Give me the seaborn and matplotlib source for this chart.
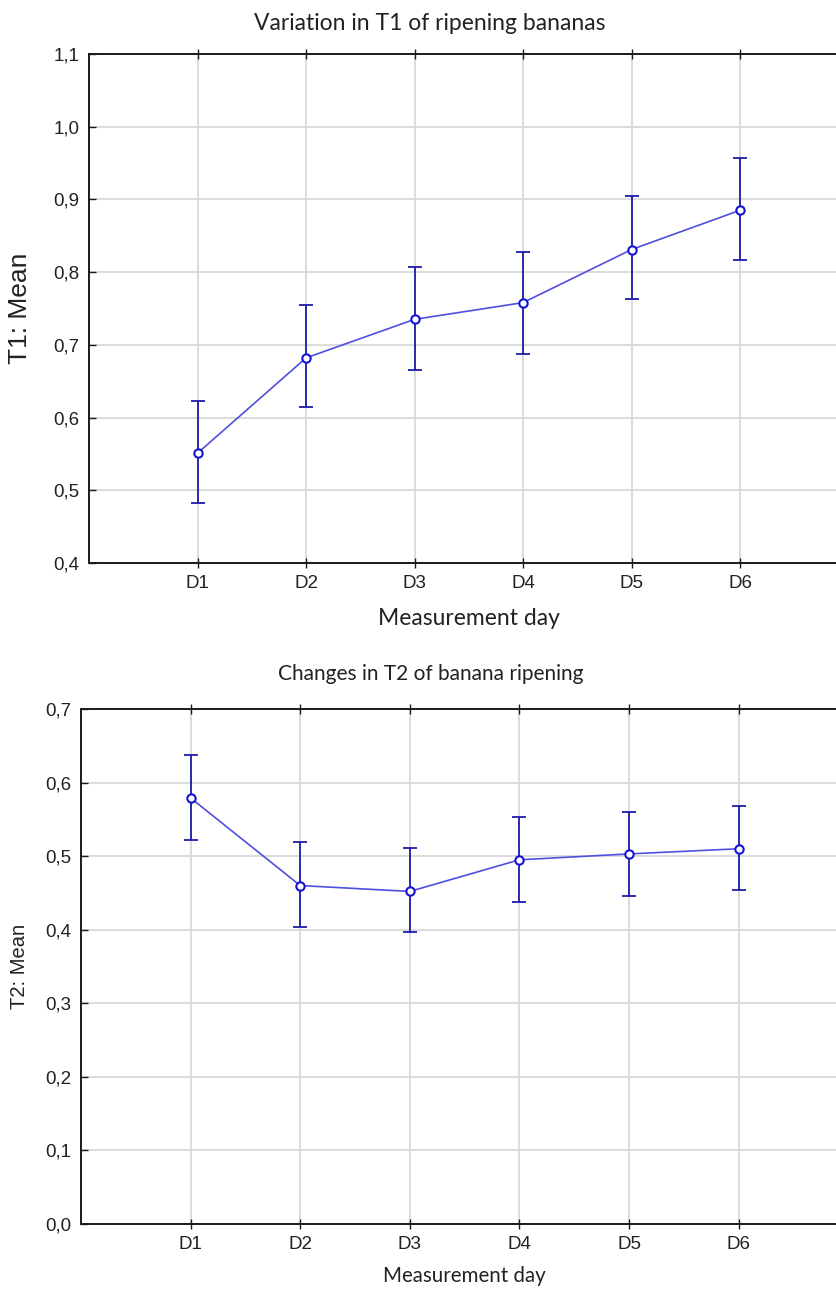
import matplotlib
matplotlib.use("Agg")
import matplotlib.pyplot as plt
import seaborn as sns
import numpy as np
from matplotlib.ticker import FuncFormatter, MultipleLocator

days = ["D1", "D2", "D3", "D4", "D5", "D6"]

t1_mean = [0.551, 0.682, 0.735, 0.758, 0.831, 0.885]
t1_low = [0.483, 0.614, 0.666, 0.687, 0.763, 0.817]
t1_high = [0.623, 0.755, 0.807, 0.828, 0.904, 0.957]

t2_mean = [0.579, 0.460, 0.452, 0.495, 0.503, 0.510]
t2_low = [0.522, 0.404, 0.397, 0.438, 0.446, 0.454]
t2_high = [0.637, 0.519, 0.511, 0.553, 0.560, 0.568]

sns.set_theme(style="white")
plt.rcParams["font.family"] = ["Liberation Sans", "DejaVu Sans"]

LINE_C = "#4f4fe0"
ERR_C = "#1c1caa"
MARK_C = "#1414d2"
GRID_C = "#d9d9d9"
TXT_C = "#222222"

fig = plt.figure(figsize=(8.36, 12.9), dpi=100)
ax1 = fig.add_axes([0.1065, 0.5636, 0.9085, 0.3946])
ax2 = fig.add_axes([0.0969, 0.0512, 0.9177, 0.3992])

comma = FuncFormatter(lambda v, p: f"{v:.1f}".replace(".", ","))


def draw(ax, mean, low, high, ylim, title, ylabel, title_size, title_x,
         title_pad, ylab_size, ylab_x, xlab_size, xlab_y):
    err = [np.array(mean) - np.array(low), np.array(high) - np.array(mean)]
    ax.errorbar(days, mean, yerr=err, fmt="none", ecolor=ERR_C,
                elinewidth=1.3, capsize=5, capthick=1.3, zorder=3)
    sns.lineplot(x=days, y=mean, ax=ax, color=LINE_C, linewidth=1.2,
                 marker="o", markersize=6, markerfacecolor="white",
                 markeredgecolor=MARK_C, markeredgewidth=1.5, zorder=4,
                 sort=False)
    ax.set_xlim(-1, 6)
    ax.set_ylim(*ylim)
    ax.yaxis.set_major_locator(MultipleLocator(0.1))
    ax.yaxis.set_major_formatter(comma)
    ax.grid(True, color=GRID_C, linewidth=1.3)
    ax.set_axisbelow(True)
    for s in ["left", "bottom", "top"]:
        ax.spines[s].set_visible(True)
        ax.spines[s].set_color("#1a1a1a")
        ax.spines[s].set_linewidth(1.4)
    ax.spines["right"].set_visible(False)
    ax.tick_params(axis="x", which="major", bottom=True, top=True,
                   direction="inout", length=7, width=1.0, color="#1a1a1a",
                   labelsize=13.5, labelcolor=TXT_C, pad=5)
    ax.tick_params(axis="y", which="major", left=True, direction="in",
                   length=5, width=1.0, color="#1a1a1a",
                   labelsize=13.5, labelcolor=TXT_C, pad=7)
    for lab in ax.get_xticklabels() + ax.get_yticklabels():
        lab.set_family(["Liberation Sans", "DejaVu Sans"])
    ax.set_title(title, fontsize=title_size, pad=title_pad, color=TXT_C,
                 family=["Lato", "DejaVu Sans"], x=title_x)
    ax.set_xlabel("Measurement day", fontsize=xlab_size, color=TXT_C,
                  family=["Lato", "DejaVu Sans"])
    ax.xaxis.set_label_coords(0.5, xlab_y)
    ax.set_ylabel(ylabel, fontsize=ylab_size, color=TXT_C,
                  family=["Liberation Sans", "DejaVu Sans"])
    ax.yaxis.set_label_coords(ylab_x, 0.5)


draw(ax1, t1_mean, t1_low, t1_high, (0.4, 1.1),
     "Variation in T1 of ripening bananas", "T1: Mean", 16.5, 0.449, 17.3,
     19, -0.075, 16.5, -0.088)
draw(ax2, t2_mean, t2_low, t2_high, (0.0, 0.7),
     "Changes in T2 of banana ripening", "T2: Mean", 15, 0.456, 20.9,
     14.5, -0.068, 14.8, -0.0816)

fig.savefig("out.png", dpi=100)
